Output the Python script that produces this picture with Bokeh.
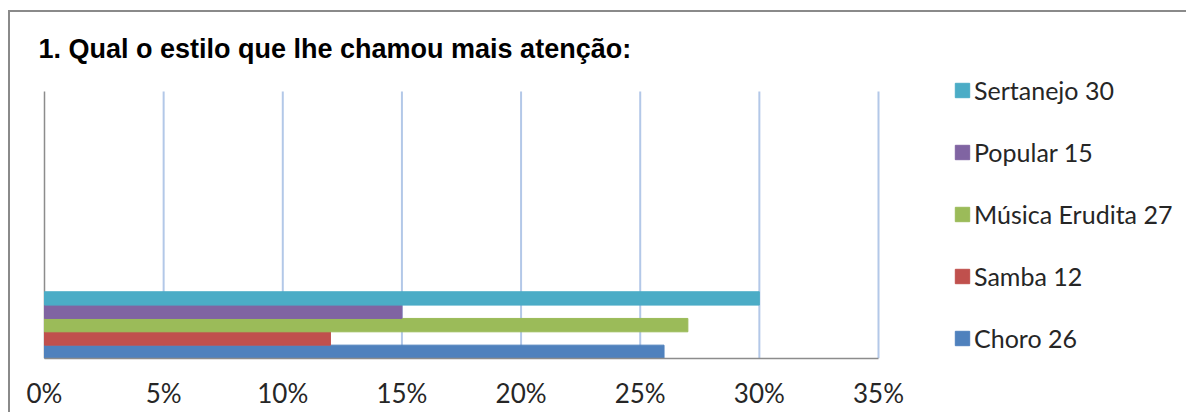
from bokeh.plotting import figure
from bokeh.models import (Range1d, FixedTicker, NumeralTickFormatter, Legend,
                          LegendItem, ColumnDataSource, Label)
from bokeh.embed import file_html
from bokeh.resources import INLINE

# ---- data ----
categories = ["Choro", "Samba", "Música Erudita", "Popular", "Sertanejo"]
counts = [26, 12, 27, 15, 30]
colors = ["#4F81BD", "#C0504D", "#9BBB59", "#8064A2", "#4BACC6"]
x_ticks = [0, 0.05, 0.10, 0.15, 0.20, 0.25, 0.30, 0.35]
title_text = "1. Qual o estilo que lhe chamou mais atenção:"

source = ColumnDataSource(dict(
    y=[i + 0.5 for i in range(len(categories))],
    right=[n / 100 for n in counts],
    color=colors,
    label=[f"{c} {n}" for c, n in zip(categories, counts)],
))

# ---- geometry (pixels) ----
BORDER = "2px solid #8a8a8a"
W, H = 1178, 402          # canvas size
BOTTOM = 56               # space under the frame for tick labels
AX0 = 34                  # x of the value 0 inside the frame
AXW = 834                 # pixel width of the 0..35% span
PLOT_H = 267              # pixel height of the plot area (20 bar units)
XMAX = x_ticks[-1]
YMAX = 20
frame_h = H - BOTTOM
x_start = -AX0 / AXW * XMAX
x_end = (W - AX0) / AXW * XMAX
y_end = YMAX * frame_h / PLOT_H

p = figure(width=W, height=H, output_backend="svg", toolbar_location=None,
           x_range=Range1d(x_start, x_end), y_range=Range1d(0, y_end),
           min_border_left=0, min_border_right=0, min_border_top=0,
           min_border_bottom=BOTTOM, y_axis_location=None)
p.margin = (10, 0, 0, 8)
p.styles = {"border-top": BORDER, "border-left": BORDER}
p.outline_line_color = None
p.background_fill_color = "white"
p.border_fill_color = "white"
p.grid.grid_line_color = None

# vertical gridlines (5%..35%) and the left axis line at 0%
p.segment(x0=x_ticks[1:], x1=x_ticks[1:], y0=0, y1=YMAX,
          line_color="#B3C8E8", line_width=2)
p.segment(x0=[x_ticks[0]], x1=[x_ticks[0]], y0=0, y1=YMAX,
          line_color="#8c8c8c", line_width=1.5)

r = p.hbar(y="y", right="right", left=0, height=1, color="color", source=source)

p.xaxis.ticker = FixedTicker(ticks=x_ticks)
p.xaxis.bounds = (x_ticks[0], XMAX)
p.xaxis.formatter = NumeralTickFormatter(format="0%")
p.xaxis.major_tick_line_color = None
p.xaxis.minor_tick_line_color = None
p.xaxis.axis_line_color = "#8c8c8c"
p.xaxis.axis_line_width = 1.5
p.xaxis.major_label_text_font = "Lato"
p.xaxis.major_label_text_font_size = "26px"
p.xaxis.major_label_text_color = "#262626"
p.xaxis.major_label_standoff = 12

items = [LegendItem(label=source.data["label"][i], renderers=[r], index=i)
         for i in reversed(range(len(categories)))]
legend = Legend(items=items, location=(943, 5), padding=0, margin=0,
                spacing=32, label_height=20, glyph_width=18, glyph_height=18,
                label_standoff=3, label_text_font="Lato",
                label_text_font_size="25px", label_text_color="#262626",
                border_line_color=None, background_fill_alpha=0)
p.add_layout(legend)

p.add_layout(Label(x=28, y=310, x_units="screen", y_units="screen",
                   text=title_text, text_font="Liberation Sans",
                   text_font_style="bold", text_font_size="27px",
                   text_color="#000000", text_baseline="alphabetic"))

open("out.html", "w").write(file_html(p, INLINE))
